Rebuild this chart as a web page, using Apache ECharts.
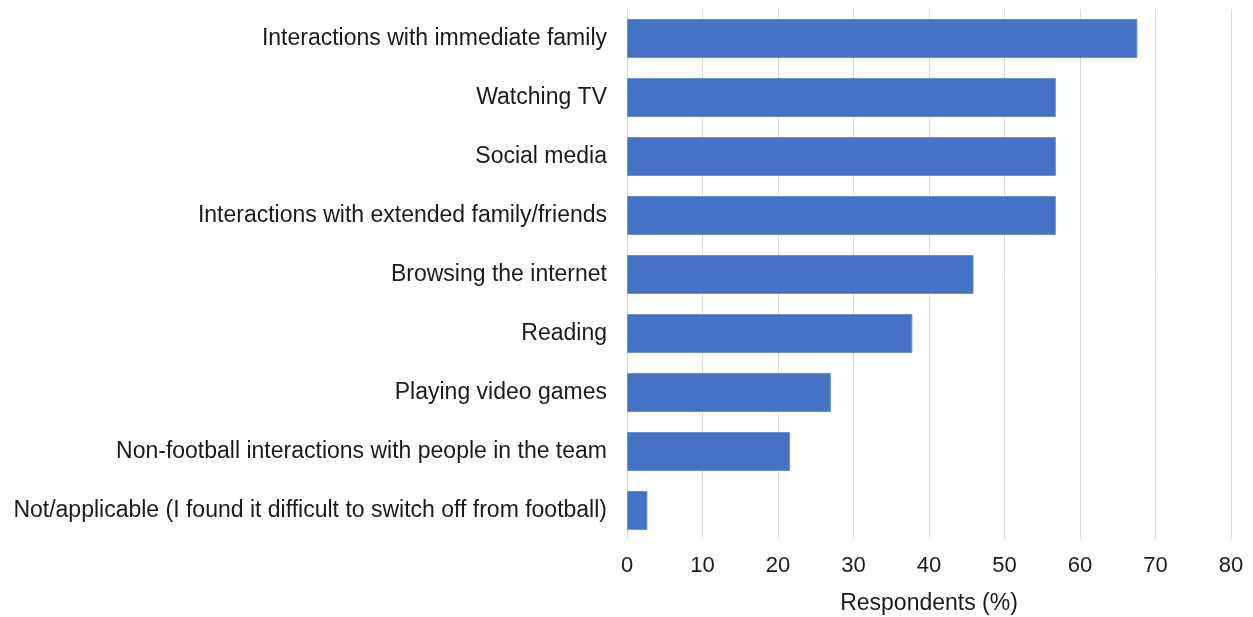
<!DOCTYPE html>
<html><head><meta charset="utf-8">
<script src="https://cdn.jsdelivr.net/npm/echarts@6/dist/echarts.min.js"></script>
<style>html,body{margin:0;padding:0;background:#fff}#c{width:1253px;height:617px}</style>
</head><body><div id="c"></div>
<script>
const categories = [
  "Interactions with immediate family",
  "Watching TV",
  "Social media",
  "Interactions with extended family/friends",
  "Browsing the internet",
  "Reading",
  "Playing video games",
  "Non-football interactions with people in the team",
  "Not/applicable (I found it difficult to switch off from football)"
];
const values = [67.6, 56.8, 56.8, 56.8, 45.9, 37.8, 27.0, 21.6, 2.7];
const axisName = "Respondents (%)";

const FONT = "'Liberation Sans', Arial, sans-serif";
const chart = echarts.init(document.getElementById('c'), null, {renderer: 'canvas'});
chart.setOption({
  animation: false,
  textStyle: {fontFamily: FONT},
  grid: {left: 627, right: 22, top: 9, bottom: 77, containLabel: false, outerBoundsMode: 'none'},
  xAxis: {
    type: 'value', min: 0, max: 80, interval: 10,
    axisLine: {show: false}, axisTick: {show: false},
    splitLine: {show: true, lineStyle: {color: '#d9d9d9', width: 1}},
    axisLabel: {color: '#1a1a1a', fontSize: 22, margin: 15, fontFamily: FONT},
    name: axisName, nameLocation: 'middle', nameGap: 52,
    nameTextStyle: {color: '#1a1a1a', fontSize: 23, fontFamily: FONT}
  },
  yAxis: {
    type: 'category', data: categories, inverse: true,
    axisLine: {show: false}, axisTick: {show: false},
    axisLabel: {color: '#1a1a1a', fontSize: 23, margin: 20, fontFamily: FONT}
  },
  series: [{
    type: 'bar', data: values, barCategoryGap: '34%',
    itemStyle: {color: '#4472C4', borderColor: '#6b8fd4', borderWidth: 1}
  }]
});
</script></body></html>
